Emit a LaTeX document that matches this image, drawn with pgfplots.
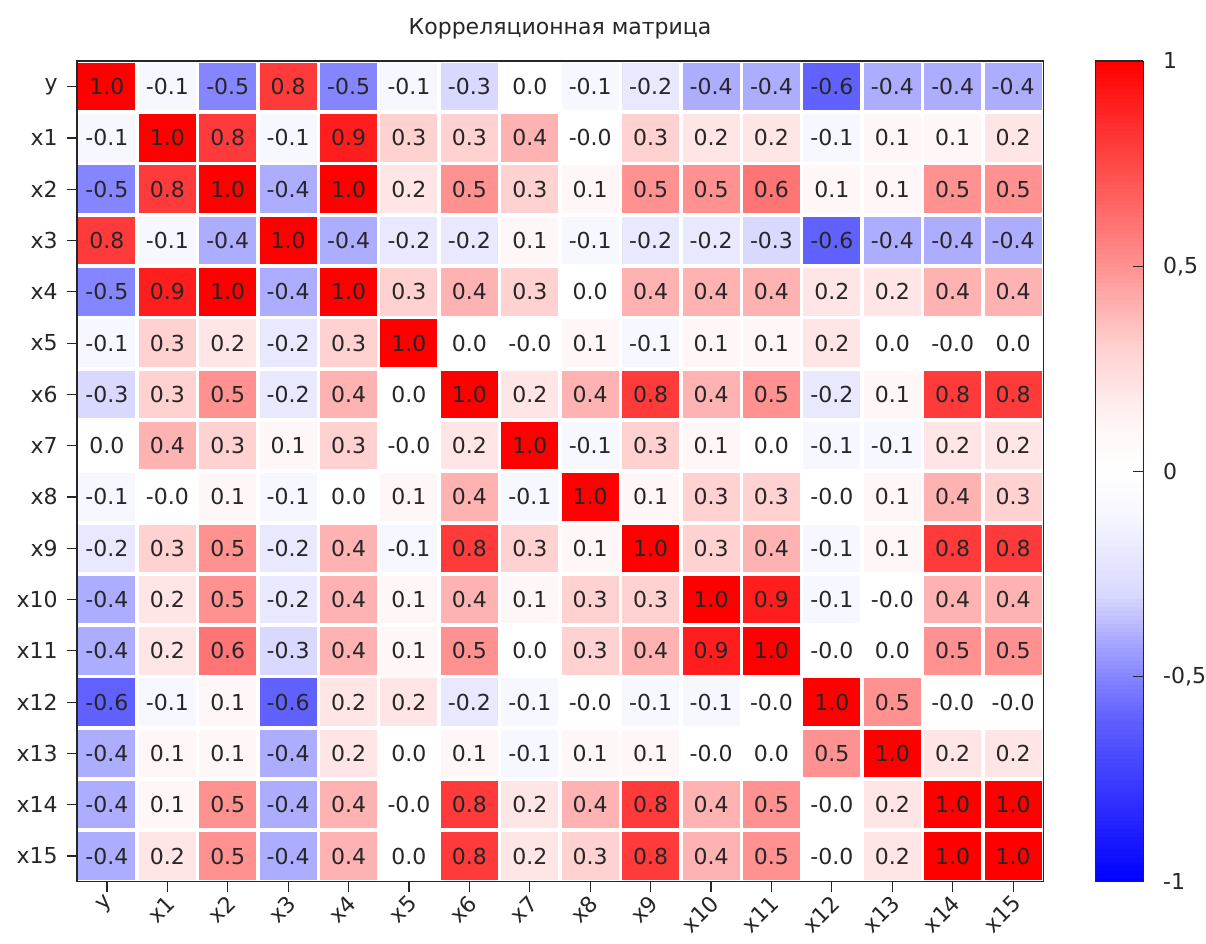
\documentclass[border=0pt]{standalone}
\usepackage{fontspec}
\setmainfont{DejaVu Sans}
\usepackage{pgfplots}
\usepackage{pgfplotstable}
\pgfplotsset{compat=1.18}
\newcommand\ff{\fontsize{11}{13.2}\selectfont}
\pgfplotstableread[row sep=\\]{
x y v\\
0 0 1.0\\ 1 0 -0.1\\ 2 0 -0.5\\ 3 0 0.8\\ 4 0 -0.5\\ 5 0 -0.1\\ 6 0 -0.3\\ 7 0 0.0\\ 8 0 -0.1\\ 9 0 -0.2\\ 10 0 -0.4\\ 11 0 -0.4\\ 12 0 -0.6\\ 13 0 -0.4\\ 14 0 -0.4\\ 15 0 -0.4\\
0 1 -0.1\\ 1 1 1.0\\ 2 1 0.8\\ 3 1 -0.1\\ 4 1 0.9\\ 5 1 0.3\\ 6 1 0.3\\ 7 1 0.4\\ 8 1 -0.0\\ 9 1 0.3\\ 10 1 0.2\\ 11 1 0.2\\ 12 1 -0.1\\ 13 1 0.1\\ 14 1 0.1\\ 15 1 0.2\\
0 2 -0.5\\ 1 2 0.8\\ 2 2 1.0\\ 3 2 -0.4\\ 4 2 1.0\\ 5 2 0.2\\ 6 2 0.5\\ 7 2 0.3\\ 8 2 0.1\\ 9 2 0.5\\ 10 2 0.5\\ 11 2 0.6\\ 12 2 0.1\\ 13 2 0.1\\ 14 2 0.5\\ 15 2 0.5\\
0 3 0.8\\ 1 3 -0.1\\ 2 3 -0.4\\ 3 3 1.0\\ 4 3 -0.4\\ 5 3 -0.2\\ 6 3 -0.2\\ 7 3 0.1\\ 8 3 -0.1\\ 9 3 -0.2\\ 10 3 -0.2\\ 11 3 -0.3\\ 12 3 -0.6\\ 13 3 -0.4\\ 14 3 -0.4\\ 15 3 -0.4\\
0 4 -0.5\\ 1 4 0.9\\ 2 4 1.0\\ 3 4 -0.4\\ 4 4 1.0\\ 5 4 0.3\\ 6 4 0.4\\ 7 4 0.3\\ 8 4 0.0\\ 9 4 0.4\\ 10 4 0.4\\ 11 4 0.4\\ 12 4 0.2\\ 13 4 0.2\\ 14 4 0.4\\ 15 4 0.4\\
0 5 -0.1\\ 1 5 0.3\\ 2 5 0.2\\ 3 5 -0.2\\ 4 5 0.3\\ 5 5 1.0\\ 6 5 0.0\\ 7 5 -0.0\\ 8 5 0.1\\ 9 5 -0.1\\ 10 5 0.1\\ 11 5 0.1\\ 12 5 0.2\\ 13 5 0.0\\ 14 5 -0.0\\ 15 5 0.0\\
0 6 -0.3\\ 1 6 0.3\\ 2 6 0.5\\ 3 6 -0.2\\ 4 6 0.4\\ 5 6 0.0\\ 6 6 1.0\\ 7 6 0.2\\ 8 6 0.4\\ 9 6 0.8\\ 10 6 0.4\\ 11 6 0.5\\ 12 6 -0.2\\ 13 6 0.1\\ 14 6 0.8\\ 15 6 0.8\\
0 7 0.0\\ 1 7 0.4\\ 2 7 0.3\\ 3 7 0.1\\ 4 7 0.3\\ 5 7 -0.0\\ 6 7 0.2\\ 7 7 1.0\\ 8 7 -0.1\\ 9 7 0.3\\ 10 7 0.1\\ 11 7 0.0\\ 12 7 -0.1\\ 13 7 -0.1\\ 14 7 0.2\\ 15 7 0.2\\
0 8 -0.1\\ 1 8 -0.0\\ 2 8 0.1\\ 3 8 -0.1\\ 4 8 0.0\\ 5 8 0.1\\ 6 8 0.4\\ 7 8 -0.1\\ 8 8 1.0\\ 9 8 0.1\\ 10 8 0.3\\ 11 8 0.3\\ 12 8 -0.0\\ 13 8 0.1\\ 14 8 0.4\\ 15 8 0.3\\
0 9 -0.2\\ 1 9 0.3\\ 2 9 0.5\\ 3 9 -0.2\\ 4 9 0.4\\ 5 9 -0.1\\ 6 9 0.8\\ 7 9 0.3\\ 8 9 0.1\\ 9 9 1.0\\ 10 9 0.3\\ 11 9 0.4\\ 12 9 -0.1\\ 13 9 0.1\\ 14 9 0.8\\ 15 9 0.8\\
0 10 -0.4\\ 1 10 0.2\\ 2 10 0.5\\ 3 10 -0.2\\ 4 10 0.4\\ 5 10 0.1\\ 6 10 0.4\\ 7 10 0.1\\ 8 10 0.3\\ 9 10 0.3\\ 10 10 1.0\\ 11 10 0.9\\ 12 10 -0.1\\ 13 10 -0.0\\ 14 10 0.4\\ 15 10 0.4\\
0 11 -0.4\\ 1 11 0.2\\ 2 11 0.6\\ 3 11 -0.3\\ 4 11 0.4\\ 5 11 0.1\\ 6 11 0.5\\ 7 11 0.0\\ 8 11 0.3\\ 9 11 0.4\\ 10 11 0.9\\ 11 11 1.0\\ 12 11 -0.0\\ 13 11 0.0\\ 14 11 0.5\\ 15 11 0.5\\
0 12 -0.6\\ 1 12 -0.1\\ 2 12 0.1\\ 3 12 -0.6\\ 4 12 0.2\\ 5 12 0.2\\ 6 12 -0.2\\ 7 12 -0.1\\ 8 12 -0.0\\ 9 12 -0.1\\ 10 12 -0.1\\ 11 12 -0.0\\ 12 12 1.0\\ 13 12 0.5\\ 14 12 -0.0\\ 15 12 -0.0\\
0 13 -0.4\\ 1 13 0.1\\ 2 13 0.1\\ 3 13 -0.4\\ 4 13 0.2\\ 5 13 0.0\\ 6 13 0.1\\ 7 13 -0.1\\ 8 13 0.1\\ 9 13 0.1\\ 10 13 -0.0\\ 11 13 0.0\\ 12 13 0.5\\ 13 13 1.0\\ 14 13 0.2\\ 15 13 0.2\\
0 14 -0.4\\ 1 14 0.1\\ 2 14 0.5\\ 3 14 -0.4\\ 4 14 0.4\\ 5 14 -0.0\\ 6 14 0.8\\ 7 14 0.2\\ 8 14 0.4\\ 9 14 0.8\\ 10 14 0.4\\ 11 14 0.5\\ 12 14 -0.0\\ 13 14 0.2\\ 14 14 1.0\\ 15 14 1.0\\
0 15 -0.4\\ 1 15 0.2\\ 2 15 0.5\\ 3 15 -0.4\\ 4 15 0.4\\ 5 15 0.0\\ 6 15 0.8\\ 7 15 0.2\\ 8 15 0.3\\ 9 15 0.8\\ 10 15 0.4\\ 11 15 0.5\\ 12 15 -0.0\\ 13 15 0.2\\ 14 15 1.0\\ 15 15 1.0\\
}\data
\begin{document}
\begin{tikzpicture}[font=\ff]
\begin{axis}[
  scale only axis, width=483.5pt, height=410.5pt,
  xmin=-0.5, xmax=15.5, ymin=-0.5, ymax=15.5,
  y dir=reverse,
  xtick={0,...,15}, ytick={0,...,15},
  xticklabels={y,x1,x2,x3,x4,x5,x6,x7,x8,x9,x10,x11,x12,x13,x14,x15},
  yticklabels={y,x1,x2,x3,x4,x5,x6,x7,x8,x9,x10,x11,x12,x13,x14,x15},
  tick align=outside, tick pos=left, major tick length=5pt,
  tick style={line width=0.6pt, black!85},
  tick label style={font=\ff, text=black!85},
  xticklabel style={rotate=45, anchor=east, xshift=2pt, yshift=-4pt},
  yticklabel style={text width=25.5pt, align=right, xshift=-1pt},
  axis line style={line width=0.8pt, black!85},
  title=Корреляционная матрица,
  title style={font=\ff, text=black!85, inner ysep=9pt, yshift=-4pt},
  colormap={bwrw}{
    rgb(0pt)=(0,0,1) rgb(4pt)=(0.38,0.38,1) rgb(5pt)=(0.52,0.52,1)
    rgb(6pt)=(0.68,0.68,1) rgb(7pt)=(0.85,0.85,1) rgb(8pt)=(0.91,0.91,1)
    rgb(9pt)=(0.97,0.97,1) rgb(10pt)=(1,1,1) rgb(11pt)=(1,0.97,0.97)
    rgb(12pt)=(1,0.9,0.9) rgb(13pt)=(1,0.82,0.82) rgb(14pt)=(1,0.7,0.7)
    rgb(15pt)=(1,0.57,0.57) rgb(20pt)=(1,0,0)},
  point meta min=-1, point meta max=1,
  colorbar sampled,
  colorbar shift/.style={xshift=26pt},
  colorbar style={
    at={(parent axis.north east)}, anchor=north west,
    width=24pt,
    samples=201,
    ytick={-1,-0.5,0,0.5,1},
    yticklabels={{-1},{-0,5},{0},{0,5},{1}},
    ytick pos=right, yticklabel pos=right,
    tick align=inside, major tick length=5pt,
    tick style={line width=0.6pt, black!85},
    yticklabel style={font=\ff, text=black!85, inner xsep=0pt, xshift=9.7pt},
    axis line style={line width=0.8pt, black!85},
  },
]
\addplot[scatter, only marks, mark=square*, mark size=14pt,
  point meta=explicit,
  scatter/use mapped color={draw=mapped color, fill=mapped color},
  mark options={line width=0pt, yscale=0.83}] table[x=x, y=y, meta=v] {\data};
\addplot[only marks, mark=none, point meta=explicit symbolic,
  nodes near coords,
  every node near coord/.style={font=\ff, text=black!85, anchor=center, inner sep=0pt}]
  table[x=x, y=y, meta=v] {\data};
\end{axis}
\end{tikzpicture}
\end{document}
